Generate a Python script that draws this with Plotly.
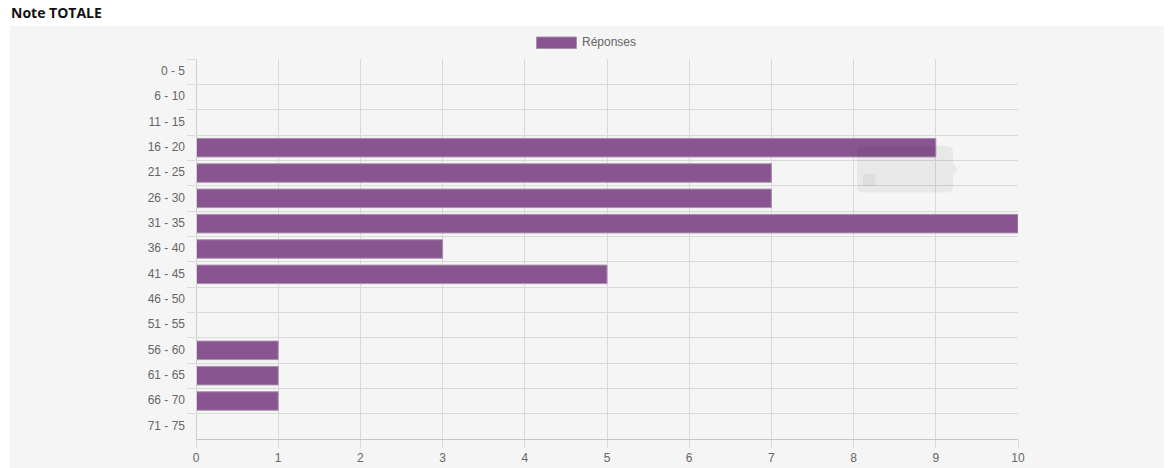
import plotly.graph_objects as go

categories = ["0 - 5", "6 - 10", "11 - 15", "16 - 20", "21 - 25", "26 - 30", "31 - 35",
              "36 - 40", "41 - 45", "46 - 50", "51 - 55", "56 - 60", "61 - 65", "66 - 70", "71 - 75"]
reponses = [0, 0, 0, 9, 7, 7, 10, 3, 5, 0, 0, 1, 1, 1, 0]
x_ticks = list(range(0, 11))
series_name = "Réponses"
title_text = "Note TOTALE"

W, H = 1174, 468
L, R, T, B = 196, 1018, 59, 439


def px(x):
    return (x - L) / (R - L)


def py(y):
    return (B - y) / (B - T)


GRID = "#d9d9d9"
TXT = "#666666"
FONT = "Liberation Sans, Arial, sans-serif"

fig = go.Figure(
    go.Bar(
        y=categories,
        x=reponses,
        orientation="h",
        name=series_name,
        marker=dict(color="#885591",
                    line=dict(color="#ab8db0", width=[1 if v else 0 for v in reponses])),
        showlegend=False,
        hoverinfo="skip",
    )
)

# Rounded ghost tooltip, in pixel positions
tx0, tx1, ty0, ty1, r = 857, 953, 146, 192.5, 6
tip = (
    f"M{px(tx0 + r)},{py(ty0)} L{px(tx1 - r)},{py(ty0)} Q{px(tx1)},{py(ty0)} {px(tx1)},{py(ty0 + r)} "
    f"L{px(tx1)},{py(164)} L{px(tx1 + 5)},{py(169)} L{px(tx1)},{py(174)} "
    f"L{px(tx1)},{py(ty1 - r)} Q{px(tx1)},{py(ty1)} {px(tx1 - r)},{py(ty1)} "
    f"L{px(tx0 + r)},{py(ty1)} Q{px(tx0)},{py(ty1)} {px(tx0)},{py(ty1 - r)} "
    f"L{px(tx0)},{py(ty0 + r)} Q{px(tx0)},{py(ty0)} {px(tx0 + r)},{py(ty0)} Z"
)

fig.update_layout(
    width=W,
    height=H,
    autosize=False,
    margin=dict(l=L, r=W - R, t=T, b=H - B, pad=0),
    paper_bgcolor="#ffffff",
    plot_bgcolor="rgba(0,0,0,0)",
    bargap=0.27,
    font=dict(family=FONT, size=12, color=TXT),
    shapes=[
        dict(type="rect", xref="paper", yref="paper", layer="below",
             x0=px(10), x1=px(1164), y0=py(26), y1=py(468),
             fillcolor="#f5f5f5", line=dict(width=0)),
        dict(type="rect", xref="paper", yref="paper", layer="above",
             x0=px(196), x1=px(197), y0=py(59), y1=py(439),
             fillcolor="#cfcfcf", line=dict(width=0)),
        dict(type="rect", xref="paper", yref="paper", layer="above",
             x0=px(536.5), x1=px(576.5), y0=py(37), y1=py(48.5),
             fillcolor="#885591", line=dict(color="#ab8db0", width=1)),
        dict(type="path", xref="paper", yref="paper", layer="above", path=tip,
             fillcolor="rgba(0,0,0,0.05)", line=dict(width=0)),
        dict(type="rect", xref="paper", yref="paper", layer="above",
             x0=px(863), x1=px(875), y0=py(174), y1=py(186),
             fillcolor="rgba(0,0,0,0.04)", line=dict(width=0)),
    ],
    annotations=[
        dict(text=f"<b>{title_text}</b>", xref="paper", yref="paper", x=px(9), y=py(12.5),
             xanchor="left", yanchor="middle", showarrow=False,
             font=dict(family="Open Sans, sans-serif", size=14, color="#111111")),
        dict(text=series_name, xref="paper", yref="paper", x=px(579.5), y=py(41.5),
             xanchor="left", yanchor="middle", showarrow=False,
             font=dict(family=FONT, size=12, color=TXT)),
        dict(text="<b>21 - 25</b>", xref="paper", yref="paper", x=px(860), y=py(157),
             xanchor="left", yanchor="middle", showarrow=False,
             font=dict(family=FONT, size=12, color="rgba(0,0,0,0.025)")),
        dict(text=f"{series_name}: 7", xref="paper", yref="paper", x=px(875), y=py(180),
             xanchor="left", yanchor="middle", showarrow=False,
             font=dict(family=FONT, size=12, color="rgba(0,0,0,0.025)")),
    ],
)

fig.update_xaxes(
    automargin=False,
    range=[0, 10],
    tickmode="array",
    tickvals=x_ticks,
    ticktext=[str(v) for v in x_ticks],
    showgrid=True,
    gridcolor=GRID,
    gridwidth=1,
    zeroline=False,
    showline=True,
    linecolor="#c4c4c4",
    linewidth=1,
    ticks="outside",
    ticklen=8,
    tickcolor=GRID,
    tickfont=dict(family=FONT, size=12, color=TXT),
)
fig.update_yaxes(
    automargin=False,
    type="category",
    categoryorder="array",
    categoryarray=categories,
    range=[14.5, -0.5],
    tickson="boundaries",
    showgrid=True,
    gridcolor=GRID,
    gridwidth=1,
    zeroline=False,
    showline=False,
    ticks="outside",
    ticklen=8,
    tickcolor=GRID,
    ticklabelstandoff=10,
    ticklabelshift=1,
    tickfont=dict(family=FONT, size=12, color=TXT),
)

fig.write_html("out.html", config={"displayModeBar": False},
               post_script="document.body.style.margin='0';")
